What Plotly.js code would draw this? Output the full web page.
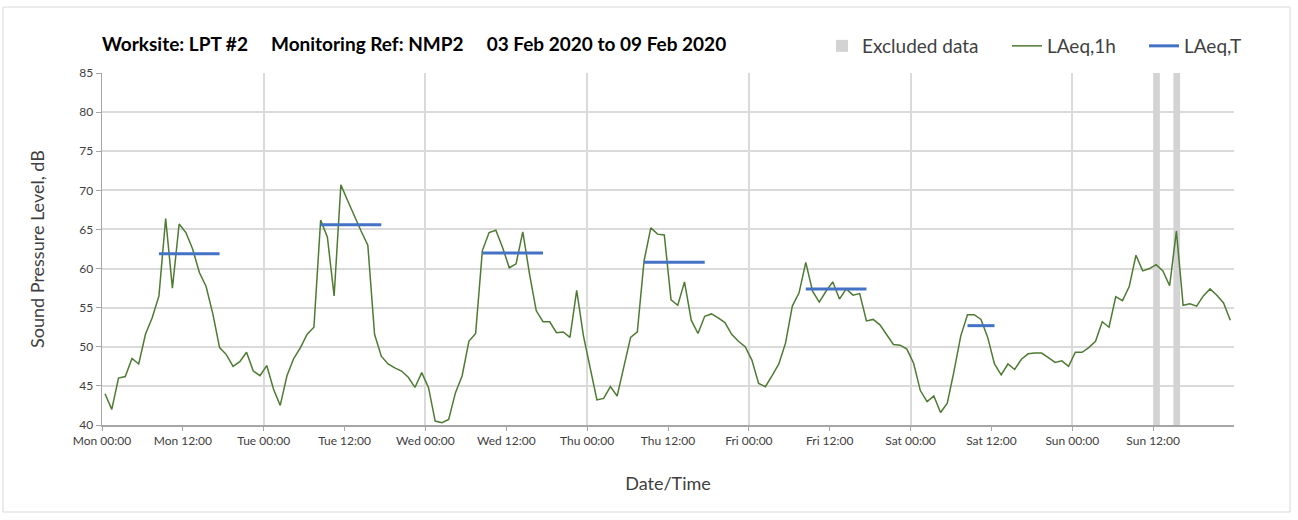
<!DOCTYPE html>
<html><head><meta charset="utf-8">
<script src="https://cdn.plot.ly/plotly-3.0.1.min.js"></script>
<style>html,body{margin:0;padding:0;background:#fff}#chart{width:1298px;height:520px}</style>
</head><body><div id="chart"></div>
<script>
// ---- data ----
const seriesStartUTC = Date.UTC(2020, 1, 3, 0, 0); // Mon 03 Feb 2020 00:00
const pointOffsetMinutes = 27;                      // hourly points plotted inside each hour
const laeq1h = [
 44.0,42.0,46.0,46.2,48.5,47.8,51.6,53.7,56.5,66.4,57.5,65.7,64.6,62.5,59.5,57.7,54.2,49.9,49.0,47.5,48.1,49.3,46.9,46.3,
 47.6,44.6,42.5,46.3,48.5,49.9,51.6,52.5,66.2,64.0,56.5,70.7,68.7,66.7,64.8,63.0,51.6,48.8,47.8,47.3,46.9,46.1,44.8,46.7,
 44.8,40.5,40.3,40.7,44.1,46.3,50.7,51.7,62.3,64.6,64.9,62.7,60.1,60.6,64.7,59.3,54.6,53.2,53.2,51.8,51.9,51.2,57.2,51.4,
 47.5,43.2,43.4,44.9,43.7,47.3,51.2,51.9,61.0,65.2,64.4,64.3,56.0,55.3,58.3,53.4,51.7,53.9,54.2,53.7,53.1,51.6,50.7,50.0,
 48.3,45.3,44.9,46.3,47.8,50.5,55.2,56.9,60.8,57.1,55.7,57.1,58.3,56.1,57.4,56.6,56.8,53.3,53.5,52.8,51.6,50.3,50.2,49.7,
 47.9,44.4,43.0,43.7,41.6,42.8,46.9,51.4,54.1,54.1,53.5,51.2,47.8,46.4,47.8,47.1,48.4,49.1,49.2,49.2,48.6,48.0,48.2,47.5,
 49.3,49.3,49.9,50.7,53.2,52.5,56.4,55.9,57.7,61.7,59.7,60.0,60.5,59.7,57.8,64.8,55.3,55.5,55.2,56.5,57.4,56.6,55.6,53.4
];
const laeqTStartHour = [8, 32, 56, 80, 104, 128];
const laeqTEndHour   = [17, 41, 65, 89, 113, 132];
const laeqTValues    = [61.9, 65.6, 62.0, 60.8, 57.4, 52.7];
const excludedHour   = [156, 159];
const xTickLabels = ['Mon 00:00','Mon 12:00','Tue 00:00','Tue 12:00','Wed 00:00','Wed 12:00','Thu 00:00',
                     'Thu 12:00','Fri 00:00','Fri 12:00','Sat 00:00','Sat 12:00','Sun 00:00','Sun 12:00'];
const yRange = [40, 85];

// ---- helpers ----
const HOUR = 3600000;
const fmt = ms => new Date(ms).toISOString().slice(0, 19).replace('T', ' ');
const atHour = h => fmt(seriesStartUTC + h * HOUR + pointOffsetMinutes * 60000);

const xLine = laeq1h.map((_, i) => atHour(i));
const xT = [], yT = [];
laeqTValues.forEach((v, i) => {
  xT.push(atHour(laeqTStartHour[i]), atHour(laeqTEndHour[i]), null);
  yT.push(v, v, null);
});
const xRange = [fmt(seriesStartUTC), fmt(seriesStartUTC + 7 * 24 * HOUR)];
const tickvals = xTickLabels.map((_, i) => fmt(seriesStartUTC + i * 12 * HOUR));

const FONT = 'Lato, "Open Sans", sans-serif';
const traces = [
  { type: 'bar', name: 'Excluded data', legend: 'legend',
    x: excludedHour.map(h => fmt(seriesStartUTC + (h + 0.5) * HOUR)),
    y: excludedHour.map(() => yRange[1] - yRange[0]), base: yRange[0],
    width: excludedHour.map(() => HOUR),
    marker: { color: '#d3d3d3', line: { width: 0 } }, hoverinfo: 'skip' },
  { type: 'scatter', mode: 'lines', name: 'LAeq,1h', x: xLine, y: laeq1h, legend: 'legend2',
    line: { color: '#4e7a33', width: 1.5 } },
  { type: 'scatter', mode: 'lines', name: 'LAeq,T', x: xT, y: yT, xaxis: 'x2', legend: 'legend3',
    line: { color: '#4472c4', width: 3 }, connectgaps: false }
];

const W = 1298, H = 520, L = 102, R = 64, T = 73, B = 95;
const pw = W - L - R, ph = H - T - B;
const px2x = p => (p - L) / pw, px2y = p => (H - B - p) / ph;
const NB = n => '\u00a0'.repeat(n);

const legendBase = p => ({ orientation: 'h', xref: 'paper', x: px2x(p), xanchor: 'left',
  yref: 'container', y: 1 - 46 / H, yanchor: 'middle',
  font: { family: FONT, size: 19, color: '#404040' }, bgcolor: 'rgba(0,0,0,0)' });

const layout = {
  width: W, height: H,
  margin: { l: L, r: R, t: T, b: B },
  paper_bgcolor: '#ffffff', plot_bgcolor: '#ffffff',
  font: { family: FONT, color: '#404040' },
  showlegend: true,
  title: { text: 'Worksite: LPT #2' + NB(5) + 'Monitoring Ref: NMP2' + NB(5) + '03 Feb 2020 to 09 Feb 2020',
           font: { family: FONT, size: 19, color: '#000000', weight: 'bold' },
           xref: 'paper', x: 0, xanchor: 'left', yref: 'container', y: 1 - 44 / H, yanchor: 'middle' },
  legend: legendBase(822),
  legend2: legendBase(1007),
  legend3: legendBase(1144),
  xaxis: { type: 'date', range: xRange, tickmode: 'array', tickvals: tickvals, ticktext: xTickLabels,
           ticks: 'outside', ticklen: 4, tickcolor: '#a6a6a6', tickfont: { size: 12, color: '#404040' },
           showgrid: false, zeroline: false, showline: true, linecolor: '#a6a6a6', linewidth: 1.5,
           title: { text: 'Date/Time', font: { size: 18, color: '#404040' }, standoff: 30 }, automargin: false },
  xaxis2: { type: 'date', range: xRange, overlaying: 'x', anchor: 'y', side: 'bottom',
            tickmode: 'linear', tick0: xRange[0], dtick: 24 * HOUR,
            showgrid: true, gridcolor: '#dadada', gridwidth: 2, showticklabels: false, ticks: '',
            showline: false, zeroline: false },
  yaxis: { range: yRange, dtick: 5, tick0: 40, ticks: 'outside', ticklen: 5, tickcolor: '#a6a6a6',
           tickfont: { size: 12, color: '#404040' }, showgrid: true, gridcolor: '#dadada', gridwidth: 2,
           zeroline: false, showline: true, linecolor: '#a6a6a6', linewidth: 1.5,
           title: { text: 'Sound Pressure Level, dB', font: { size: 18, color: '#404040' }, standoff: 30 }, automargin: false },
  shapes: [{ type: 'rect', xref: 'paper', yref: 'paper', x0: px2x(3), x1: px2x(1290), y0: px2y(512), y1: px2y(7),
             line: { color: '#d9d9d9', width: 1 }, fillcolor: 'rgba(0,0,0,0)', layer: 'below' }],
  hovermode: false
};

Plotly.newPlot('chart', traces, layout, { displayModeBar: false, staticPlot: true });
</script></body></html>
